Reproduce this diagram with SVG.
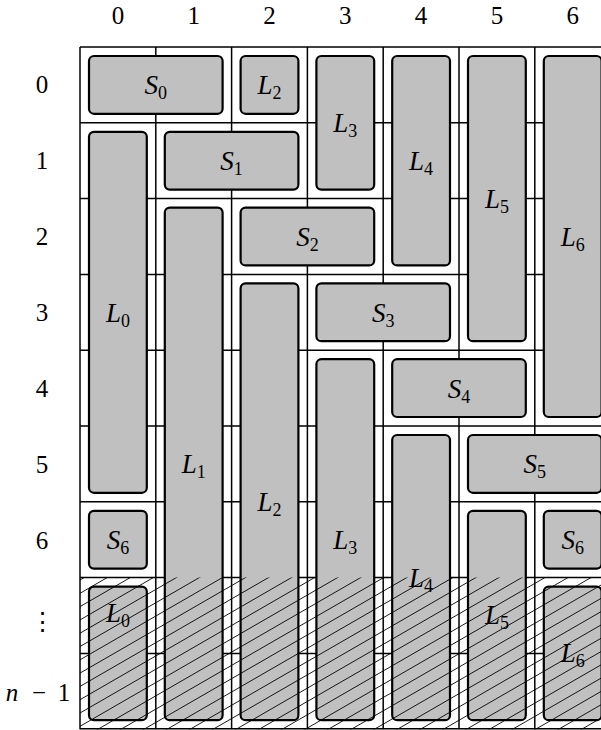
<svg xmlns="http://www.w3.org/2000/svg" width="601" height="730" viewBox="0 0 601 730">
<style>
.grid line{stroke:#000;stroke-width:1.5}
.box rect{fill:#c0c0c0;stroke:#000;stroke-width:2.2}
.lbl{font-size:27px;font-style:italic;text-anchor:middle;fill:#000}
.sub{font-style:normal;font-size:18px}
.num{font-size:25px;text-anchor:middle;fill:#000}
.hatch{fill:none;stroke:#000;stroke-width:0.9}
</style>
<defs>
<clipPath id="hclip"><rect x="80" y="577.6" width="530" height="152"/></clipPath>
</defs>
<rect width="601" height="730" fill="#fff"/>
<g id="col-labels" class="num" font-family="'Liberation Serif', 'Times New Roman', serif">
<text x="117.9" y="24">0</text>
<text x="193.7" y="24">1</text>
<text x="269.5" y="24">2</text>
<text x="345.3" y="24">3</text>
<text x="421.1" y="24">4</text>
<text x="496.9" y="24">5</text>
<text x="572.7" y="24">6</text>
</g>
<g id="row-labels" class="num" font-family="'Liberation Serif', 'Times New Roman', serif">
<text x="42" y="93">0</text>
<text x="42" y="169">1</text>
<text x="42" y="245">2</text>
<text x="42" y="321">3</text>
<text x="42" y="397">4</text>
<text x="42" y="473">5</text>
<text x="42" y="549">6</text>
<text x="42" y="630" font-family="'DejaVu Serif', serif">⋮</text>
<text y="701"><tspan x="12" font-style="italic">n</tspan><tspan x="39">−</tspan><tspan x="64">1</tspan></text>
</g>
<g id="grid" class="grid">
<line x1="80" y1="47" x2="80" y2="729.2"/>
<line x1="155.8" y1="47" x2="155.8" y2="729.2"/>
<line x1="231.6" y1="47" x2="231.6" y2="729.2"/>
<line x1="307.4" y1="47" x2="307.4" y2="729.2"/>
<line x1="383.2" y1="47" x2="383.2" y2="729.2"/>
<line x1="459" y1="47" x2="459" y2="729.2"/>
<line x1="534.8" y1="47" x2="534.8" y2="729.2"/>
<line x1="80" y1="47" x2="610.6" y2="47"/>
<line x1="80" y1="122.8" x2="610.6" y2="122.8"/>
<line x1="80" y1="198.6" x2="610.6" y2="198.6"/>
<line x1="80" y1="274.4" x2="610.6" y2="274.4"/>
<line x1="80" y1="350.2" x2="610.6" y2="350.2"/>
<line x1="80" y1="426" x2="610.6" y2="426"/>
<line x1="80" y1="501.8" x2="610.6" y2="501.8"/>
<line x1="80" y1="577.6" x2="610.6" y2="577.6"/>
<line x1="80" y1="653.4" x2="610.6" y2="653.4"/>
<line x1="80" y1="728.8" x2="610.6" y2="728.8"/>
</g>
<g id="boxes" font-family="'Liberation Serif', 'Times New Roman', serif">
<g id="S0" class="box"><rect x="89" y="56" width="133.6" height="57.8" rx="5"/><text class="lbl" x="155.8" y="94">S<tspan class="sub" dy="5">0</tspan></text></g>
<g id="L2-top" class="box"><rect x="240.6" y="56" width="57.8" height="57.8" rx="5"/><text class="lbl" x="269.5" y="94">L<tspan class="sub" dy="5">2</tspan></text></g>
<g id="L3-top" class="box"><rect x="316.4" y="56" width="57.8" height="133.6" rx="5"/><text class="lbl" x="345.3" y="132">L<tspan class="sub" dy="5">3</tspan></text></g>
<g id="L4-top" class="box"><rect x="392.2" y="56" width="57.8" height="209.4" rx="5"/><text class="lbl" x="421.1" y="170">L<tspan class="sub" dy="5">4</tspan></text></g>
<g id="L5-top" class="box"><rect x="468" y="56" width="57.8" height="285.2" rx="5"/><text class="lbl" x="496.9" y="208">L<tspan class="sub" dy="5">5</tspan></text></g>
<g id="L6-top" class="box"><rect x="543.8" y="56" width="57.8" height="361" rx="5"/><text class="lbl" x="572.7" y="246">L<tspan class="sub" dy="5">6</tspan></text></g>
<g id="L0-top" class="box"><rect x="89" y="131.8" width="57.8" height="361" rx="5"/><text class="lbl" x="117.9" y="322">L<tspan class="sub" dy="5">0</tspan></text></g>
<g id="S1" class="box"><rect x="164.8" y="131.8" width="133.6" height="57.8" rx="5"/><text class="lbl" x="231.6" y="170">S<tspan class="sub" dy="5">1</tspan></text></g>
<g id="L1" class="box"><rect x="164.8" y="207.6" width="57.8" height="512.6" rx="5"/><text class="lbl" x="193.7" y="473">L<tspan class="sub" dy="5">1</tspan></text></g>
<g id="S2" class="box"><rect x="240.6" y="207.6" width="133.6" height="57.8" rx="5"/><text class="lbl" x="307.4" y="246">S<tspan class="sub" dy="5">2</tspan></text></g>
<g id="L2" class="box"><rect x="240.6" y="283.4" width="57.8" height="436.8" rx="5"/><text class="lbl" x="269.5" y="511">L<tspan class="sub" dy="5">2</tspan></text></g>
<g id="S3" class="box"><rect x="316.4" y="283.4" width="133.6" height="57.8" rx="5"/><text class="lbl" x="383.2" y="322">S<tspan class="sub" dy="5">3</tspan></text></g>
<g id="L3" class="box"><rect x="316.4" y="359.2" width="57.8" height="361" rx="5"/><text class="lbl" x="345.3" y="549">L<tspan class="sub" dy="5">3</tspan></text></g>
<g id="S4" class="box"><rect x="392.2" y="359.2" width="133.6" height="57.8" rx="5"/><text class="lbl" x="459" y="398">S<tspan class="sub" dy="5">4</tspan></text></g>
<g id="L4" class="box"><rect x="392.2" y="435" width="57.8" height="285.2" rx="5"/><text class="lbl" x="421.1" y="587">L<tspan class="sub" dy="5">4</tspan></text></g>
<g id="S5" class="box"><rect x="468" y="435" width="133.6" height="57.8" rx="5"/><text class="lbl" x="534.8" y="473">S<tspan class="sub" dy="5">5</tspan></text></g>
<g id="S6-left" class="box"><rect x="89" y="510.8" width="57.8" height="57.8" rx="5"/><text class="lbl" x="117.9" y="549">S<tspan class="sub" dy="5">6</tspan></text></g>
<g id="L5" class="box"><rect x="468" y="510.8" width="57.8" height="209.4" rx="5"/><text class="lbl" x="496.9" y="624">L<tspan class="sub" dy="5">5</tspan></text></g>
<g id="S6-right" class="box"><rect x="543.8" y="510.8" width="57.8" height="57.8" rx="5"/><text class="lbl" x="572.7" y="549">S<tspan class="sub" dy="5">6</tspan></text></g>
<g id="L0" class="box"><rect x="89" y="586.6" width="57.8" height="133.6" rx="5"/><text class="lbl" x="117.9" y="622">L<tspan class="sub" dy="5">0</tspan></text></g>
<g id="L6" class="box"><rect x="543.8" y="586.6" width="57.8" height="133.6" rx="5"/><text class="lbl" x="572.7" y="662">L<tspan class="sub" dy="5">6</tspan></text></g>
</g>
<g id="hatch-area" clip-path="url(#hclip)">
<path class="hatch" d="M80 580l530-306M80 593.3l530-306M80 606.6l530-306M80 619.9l530-306M80 633.2l530-306M80 646.5l530-306M80 659.8l530-306M80 673.1l530-306M80 686.4l530-306M80 699.7l530-306M80 713l530-306M80 726.3l530-306M80 739.6l530-306M80 752.9l530-306M80 766.2l530-306M80 779.5l530-306M80 792.8l530-306M80 806.1l530-306M80 819.4l530-306M80 832.7l530-306M80 846l530-306M80 859.3l530-306M80 872.6l530-306M80 885.9l530-306M80 899.2l530-306M80 912.5l530-306M80 925.8l530-306M80 939.1l530-306M80 952.4l530-306M80 965.7l530-306M80 979l530-306M80 992.3l530-306M80 1005.6l530-306M80 1018.9l530-306M80 1032.2l530-306M80 1045.5l530-306"/>
</g>
</svg>
